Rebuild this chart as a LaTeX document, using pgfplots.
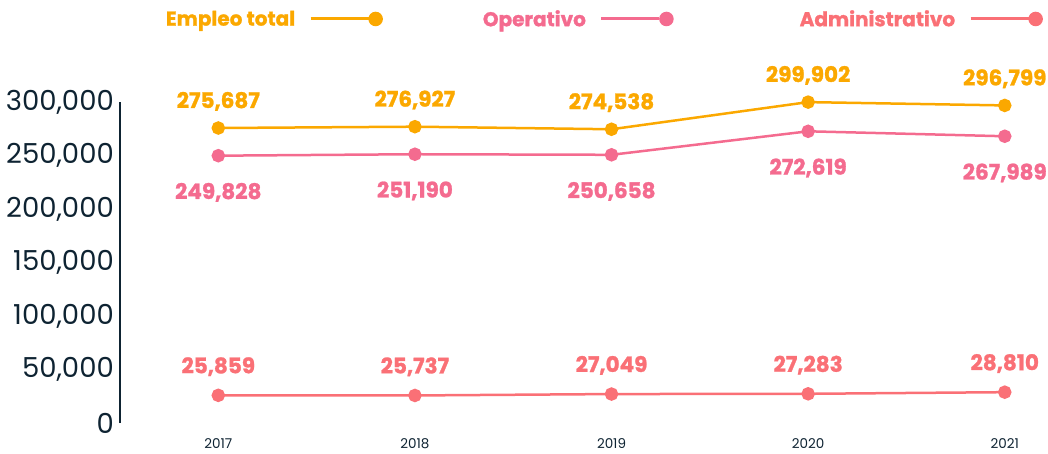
\documentclass[border=0pt]{standalone}
\usepackage{fontspec}
\setmainfont{Poppins}[BoldFeatures={FakeBold=1.2}]
\usepackage{pgfplots}
\pgfplotsset{compat=1.18}
\definecolor{cTot}{HTML}{FBA800}
\definecolor{cOpe}{HTML}{F46B8F}
\definecolor{cAdm}{HTML}{FA7076}
\definecolor{navy}{HTML}{0E2332}
\begin{document}
\begin{tikzpicture}
\useasboundingbox (-120pt,-30pt) rectangle (928pt,423pt);
\begin{axis}[
 at={(0pt,0pt)}, anchor=south west,
 scale only axis, width=928pt, height=321pt,
 xmin=2016.5, xmax=2021.22, ymin=0, ymax=300000,
 axis x line*=bottom, axis y line*=left,
 x axis line style={draw=none},
 y axis line style={-, navy, line width=1.3pt},
 xtick={2017,2018,2019,2020,2021}, xticklabels={2017,2018,2019,2020,2021},
 ytick={0,50000,100000,150000,200000,250000,300000},
 major tick length=0pt,
 scaled y ticks=false,
 yticklabel style={font=\fontsize{27.5}{32}\selectfont, text=navy, /pgf/number format/fixed, /pgf/number format/1000 sep={,}, /pgf/number format/assume math mode=true, inner sep=0pt, xshift=-6pt},
 xticklabel style={font=\fontsize{13.5}{16}\selectfont, text=navy, inner sep=0pt, yshift=-15pt},
 clip=false,
 nodes near coords,
 every node near coord/.append style={font=\bfseries\fontsize{21.5}{25}\selectfont, /pgf/number format/fixed, /pgf/number format/1000 sep={,}, /pgf/number format/assume math mode=true, inner sep=0pt},
 legend columns=3, legend plot pos=right,
 legend style={draw=none, fill=none, at={(0.046,1.2586)}, anchor=west, font=\bfseries\fontsize{20}{24}\selectfont, nodes={inner sep=0pt}, /tikz/every odd column/.append style={column sep=14pt}, /tikz/every even column/.append style={column sep=100pt}},
]
\addplot[cTot, line width=2.5pt, mark=*, mark size=5.5pt, mark options={solid}, every node near coord/.append style={anchor=south, yshift=16pt}, legend image code/.code={\draw[cTot, line width=3pt] (0pt,0pt) -- (58pt,0pt); \fill[cTot] (65pt,0pt) circle (6pt);}] coordinates {(2017,275687) (2018,276927) (2019,274538) (2020,299902) (2021,296799)};
\addlegendentry{\textcolor{cTot}{Empleo total}}
\addplot[cOpe, line width=2.5pt, mark=*, mark size=5.5pt, mark options={solid}, every node near coord/.append style={anchor=north, yshift=-26pt}, legend image code/.code={\draw[cOpe, line width=3pt] (0pt,0pt) -- (58pt,0pt); \fill[cOpe] (65pt,0pt) circle (6pt); \path (97pt,0pt);}] coordinates {(2017,249828) (2018,251190) (2019,250658) (2020,272619) (2021,267989)};
\addlegendentry{\textcolor{cOpe}{Operativo}}
\addplot[cAdm, line width=2.5pt, mark=*, mark size=5.5pt, mark options={solid}, every node near coord/.append style={anchor=south, yshift=18pt}, legend image code/.code={\draw[cAdm, line width=3pt] (0pt,0pt) -- (58pt,0pt); \fill[cAdm] (65pt,0pt) circle (6pt);}] coordinates {(2017,25859) (2018,25737) (2019,27049) (2020,27283) (2021,28810)};
\addlegendentry{\textcolor{cAdm}{Administrativo}}
\end{axis}
\end{tikzpicture}
\end{document}
